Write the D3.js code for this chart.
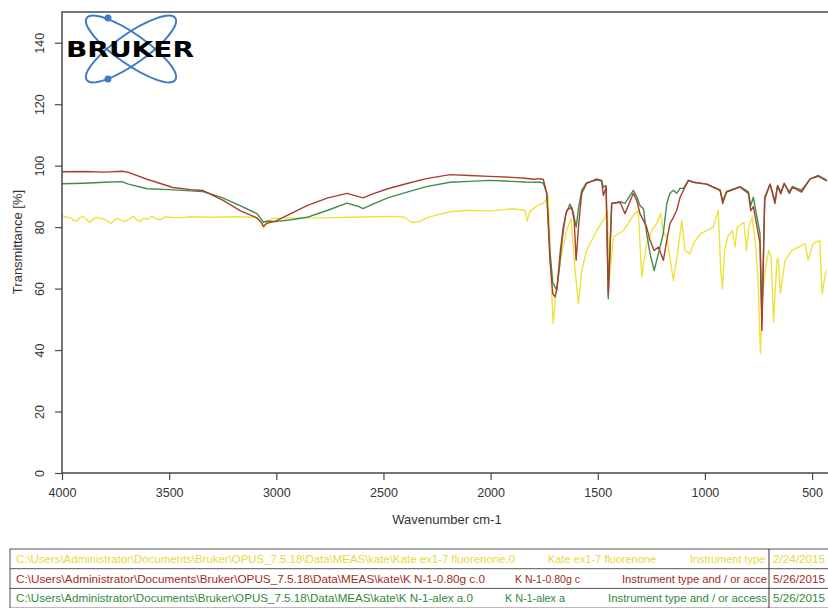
<!DOCTYPE html>
<html>
<head>
<meta charset="utf-8">
<script src="https://cdn.jsdelivr.net/npm/d3@7"></script>
<style>
  body { margin: 0; background: #fff; }
  svg { display: block; font-family: "Liberation Sans", Arial, sans-serif; }
</style>
</head>
<body>
<svg id="chart" width="828" height="608"></svg>
<script>
// x ticks / y ticks
const xTicks = [4000, 3500, 3000, 2500, 2000, 1500, 1000, 500];
const yTicks = [0, 20, 40, 60, 80, 100, 120, 140];

// Kate ex1-7 fluorenone (yellow)
const yellowWn = [4000,3980,3960,3945,3930,3915,3900,3885,3870,3855,3840,3820,3800,3785,3770,3755,3740,3720,3700,3680,3665,3650,3635,3620,3600,3580,3560,3540,3520,3500,3450,3400,3300,3200,3100,3075,3060,3045,3020,2950,2800,2600,2450,2400,2370,2330,2300,2250,2189,2100,2003,1900,1840,1830,1816,1790,1770,1754,1731,1715,1708,1692,1669,1645,1625,1606,1590,1575,1552,1505,1466,1455,1446,1427,1380,1334,1311,1295,1272,1248,1225,1206,1194,1178,1147,1124,1108,1093,1070,1054,1023,992,961,938,926,918,908,894,871,860,849,818,806,795,779,764,752,741,730,717,702,691,680,664,658,648,626,595,564,533,518,495,464,453,435];
const yellowT = [83.8,83.2,83,82.2,82,83.1,83.5,82.4,81.5,82.6,83.2,82.9,82.5,81.8,81.2,82.3,82.8,82.1,82,82.9,83.5,82.3,81.8,82.9,82.5,83.6,82.7,82.4,83.3,83.2,83,83.4,83.2,83.4,83.2,82,79.6,81.5,82.8,83,83,83.3,83.5,83.2,81.5,81.8,83,84,85,85.5,85.2,86,85.5,82,85.2,86.5,87.5,87.7,90,58.5,48.7,60.5,71.4,78.9,82.7,65.9,55.1,65.9,72.4,78.9,83.2,85.4,62.7,76.8,78.9,83.8,85.4,63.8,74.7,78.9,81.2,84.4,78.4,76.8,62.7,73.5,82.2,72.4,71.3,74.6,77.8,78.9,80,85.4,65.9,60,72.4,76.8,78.9,73.5,80,81.6,72.4,80,83.2,74.6,62.7,38.9,58.5,67,72.4,70,49.1,69.2,70,58.5,69.2,72.4,73.5,74.6,69.2,74.6,75.7,58.4,65.9];

// K N-1-0.80g c (red)
const redWn = [4000,3900,3800,3720,3690,3600,3482,3400,3342,3250,3169,3090,3070,3060,3045,3006,2930,2857,2760,2670,2620,2595,2550,2480,2390,2300,2189,2100,2003,1900,1840,1800,1770,1754,1738,1723,1710,1700,1690,1676,1661,1645,1622,1610,1601,1590,1575,1552,1505,1482,1474,1461,1451,1435,1396,1373,1334,1318,1303,1287,1272,1256,1237,1217,1194,1178,1163,1147,1132,1116,1100,1077,1054,992,929,917,899,836,797,786,774,759,743,734,721,696,673,661,646,630,606,592,549,509,470,431];
const redT = [98,98.1,97.9,98.2,97.8,95.5,92.9,92.2,91.9,88.8,85.4,83,81.5,80.3,81.2,81.9,84.5,87,89.5,91,90,89.5,90.8,92.5,94.2,95.8,97.1,96.8,96.5,96.2,95.9,95.6,95.8,95.5,91,69,58.4,57.3,60,71.4,80,85.4,86.5,82,69.2,80,91,94.2,95.7,95.2,90.3,93,58,87.7,88.1,84.4,91,88.7,84.4,82.2,80,75.7,72.4,73.5,69.2,75.7,81.2,83.2,85.4,89.7,92,95.2,94.6,94,92,87.7,91.4,93,91,85.4,86.7,81,74.7,46.4,89.7,94,87.7,93.5,90.8,94.2,91,93,91.4,95.7,96.8,95.2];

// K N-1-alex a (green)
const greenWn = [4000,3900,3800,3720,3690,3603,3500,3400,3342,3250,3169,3090,3070,3060,3040,3006,2930,2857,2760,2670,2620,2595,2550,2480,2390,2300,2189,2100,2003,1900,1840,1770,1754,1738,1723,1710,1692,1680,1666,1650,1630,1615,1601,1590,1575,1552,1505,1482,1474,1461,1451,1435,1396,1373,1334,1318,1303,1287,1272,1256,1237,1217,1194,1178,1163,1147,1132,1116,1100,1077,1054,992,929,917,899,836,797,786,774,759,743,734,721,696,673,661,646,630,606,592,549,509,470,431];
const greenT = [94.1,94.3,94.6,94.8,94,92.5,92.2,91.8,91.6,89.5,87,84.4,82.5,81.6,82,81.8,82.4,83.2,85.5,87.8,86.8,86,87.5,89.5,91.4,93.2,94.6,94.9,95.2,94.9,94.7,94.6,94.3,91,72,62,59.5,66,76,84,87.5,85,80,86,92,94.5,95.3,95,93,93.5,56.7,87.7,88.3,87.7,92,90,87,86,78,71.4,65.9,71.4,78,87.7,91,92,91,92.6,92.6,95.2,94.6,94,92,88.5,91.6,93.2,91.5,87,89.7,84,78,49.7,89,94,88.5,93.5,91.5,94.2,91.5,93.2,92,95.7,96.5,95];

const seriesNames = ["yellow", "red", "green"];
const seriesColors = ["#efe23c", "#a8402e", "#3f8d4c"];

// legend table rows (text as visible in the cells)
const rowPath = [
  "C:\\Users\\Administrator\\Documents\\Bruker\\OPUS_7.5.18\\Data\\MEAS\\kate\\Kate ex1-7 fluorenone.0",
  "C:\\Users\\Administrator\\Documents\\Bruker\\OPUS_7.5.18\\Data\\MEAS\\kate\\K N-1-0.80g c.0",
  "C:\\Users\\Administrator\\Documents\\Bruker\\OPUS_7.5.18\\Data\\MEAS\\kate\\K N-1-alex a.0"
];
const rowName = ["Kate ex1-7 fluorenone", "K N-1-0.80g c", "K N-1-alex a"];
const rowInstr = ["Instrument type", "Instrument type and / or acce", "Instrument type and / or access"];
const rowDate = ["2/24/2015", "5/26/2015", "5/26/2015"];
const rowTextColors = ["#e6da3a", "#a52a22", "#2f8a3a"];

const svg = d3.select("#chart");
const plotBottom = 473;

const x = d3.scaleLinear().domain([4000, 400]).range([62, 833.5]);
const y = d3.scaleLinear().domain([0, 150]).range([plotBottom, 12]);

svg.append("clipPath").attr("id", "plotclip")
  .append("rect").attr("x", 62).attr("y", 12).attr("width", 772).attr("height", 461);

// logo
const logo = svg.append("g").attr("class", "logo");
[35, -35].forEach(a => {
  logo.append("ellipse")
    .attr("cx", 131).attr("cy", 49).attr("rx", 54).attr("ry", 15)
    .attr("transform", `rotate(${a},131,49)`)
    .attr("fill", "none").attr("stroke", "#3d7cc4").attr("stroke-width", 2);
});
logo.append("circle").attr("cx", 108).attr("cy", 18).attr("r", 3.5).attr("fill", "#3d7cc4");
logo.append("circle").attr("cx", 108).attr("cy", 79).attr("r", 3.5).attr("fill", "#3d7cc4");
logo.append("text")
  .attr("x", 66).attr("y", 57)
  .attr("textLength", 128).attr("lengthAdjust", "spacingAndGlyphs")
  .style("font-family", "DejaVu Sans").style("font-weight", "bold").style("font-size", "21px")
  .attr("fill", "#000").text("BRUKER");

// spectra
const line = d3.line().x(d => x(d[0])).y(d => y(d[1]));
const allSeries = [
  d3.zip(yellowWn, yellowT),
  d3.zip(redWn, redT),
  d3.zip(greenWn, greenT)
];
const order = [0, 2, 1];
const gLines = svg.append("g").attr("clip-path", "url(#plotclip)");
order.forEach(i => {
  gLines.append("path")
    .datum(allSeries[i])
    .attr("class", "spec " + seriesNames[i])
    .attr("d", line)
    .attr("fill", "none")
    .attr("stroke", seriesColors[i])
    .attr("stroke-width", 1.4)
    .attr("stroke-linejoin", "round");
});

// frame
svg.append("rect")
  .attr("x", 62).attr("y", 12).attr("width", 772).attr("height", plotBottom - 12)
  .attr("fill", "none").attr("stroke", "#4a4a4a").attr("stroke-width", 1.5);

// axes
const xAxis = d3.axisBottom(x).tickValues(xTicks).tickFormat(d3.format("d")).tickSize(7).tickPadding(8);
const gx = svg.append("g").attr("transform", `translate(0,${plotBottom})`).call(xAxis);
gx.select(".domain").remove();
gx.selectAll("line").attr("stroke", "#4a4a4a").attr("stroke-width", 1.2);
gx.selectAll("text").style("font-size", "12.5px").attr("fill", "#333");

const yAxis = d3.axisLeft(y).tickValues(yTicks).tickFormat(d3.format("d")).tickSize(7);
const gy = svg.append("g").attr("transform", "translate(62,0)").call(yAxis);
gy.select(".domain").remove();
gy.selectAll("line").attr("stroke", "#4a4a4a").attr("stroke-width", 1.2);
gy.selectAll("text")
  .attr("x", 0).attr("dy", 0)
  .attr("transform", "translate(-18,0) rotate(-90)")
  .attr("text-anchor", "middle")
  .style("font-size", "12.5px").attr("fill", "#333");

svg.append("text")
  .attr("x", 447).attr("y", 524)
  .attr("text-anchor", "middle")
  .style("font-size", "13px").attr("fill", "#333")
  .text("Wavenumber cm-1");

svg.append("text")
  .attr("transform", "translate(22,242) rotate(-90)")
  .attr("text-anchor", "middle")
  .style("font-size", "13px").attr("fill", "#333")
  .text("Transmittance [%]");

// legend table
const tabTop = 549, rowH = 19.7;
const tab = svg.append("g").style("font-size", "11.5px");

const pathLen = [499, 469, 457];
const nameX = [548, 515, 505], nameLen = [108, 65, 60];
const instrX = [690, 622, 608], instrLen = [75, 145, 159];
rowPath.forEach((p, i) => {
  const ty = tabTop + i * rowH + 14;
  const cells = tab.append("g").attr("fill", rowTextColors[i]);
  cells.append("text").attr("x", 16).attr("y", ty)
    .attr("textLength", pathLen[i]).attr("lengthAdjust", "spacingAndGlyphs").text(p);
  cells.append("text").attr("x", nameX[i]).attr("y", ty)
    .attr("textLength", nameLen[i]).attr("lengthAdjust", "spacingAndGlyphs").text(rowName[i]);
  cells.append("text").attr("x", instrX[i]).attr("y", ty)
    .attr("textLength", instrLen[i]).attr("lengthAdjust", "spacingAndGlyphs").text(rowInstr[i]);
  cells.append("text").attr("x", 773).attr("y", ty)
    .attr("textLength", 52).attr("lengthAdjust", "spacingAndGlyphs").text(rowDate[i]);
});
tab.append("rect")
  .attr("x", 10).attr("y", tabTop).attr("width", 830).attr("height", rowH * 3)
  .attr("fill", "none").attr("stroke", "#555").attr("stroke-width", 1);
[1, 2].forEach(k => {
  tab.append("line").attr("x1", 10).attr("x2", 828)
    .attr("y1", tabTop + k * rowH).attr("y2", tabTop + k * rowH)
    .attr("stroke", "#555").attr("stroke-width", 1);
});
tab.append("line").attr("x1", 769).attr("x2", 769)
  .attr("y1", tabTop).attr("y2", tabTop + rowH * 3)
  .attr("stroke", "#333").attr("stroke-width", 1);
</script>
</body>
</html>
